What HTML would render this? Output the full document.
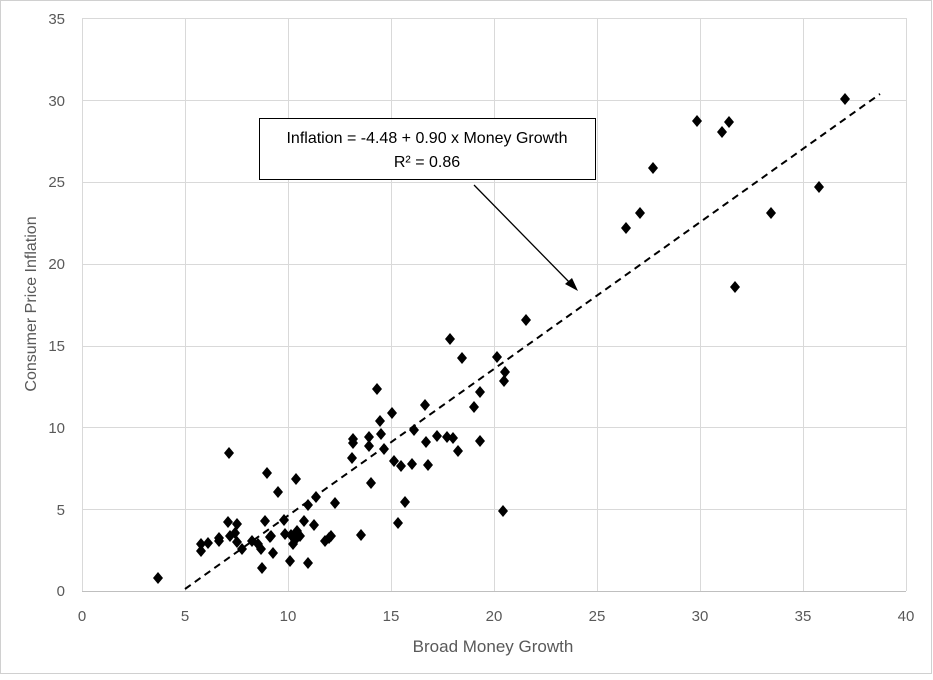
<!DOCTYPE html>
<html><head><style>
body{margin:0;background:#fff}
svg text{font-family:"Liberation Sans",sans-serif;fill:#595959}
</style></head><body>
<svg width="933" height="675" viewBox="0 0 933 675" xmlns="http://www.w3.org/2000/svg">
<rect x="0.5" y="0.5" width="931" height="673" fill="#fff" stroke="#d0d0d0"/>
<g stroke="#d9d9d9" stroke-width="1">
<line x1="82" y1="18.5" x2="906" y2="18.5"/><line x1="82" y1="100.5" x2="906" y2="100.5"/><line x1="82" y1="182.5" x2="906" y2="182.5"/><line x1="82" y1="264.5" x2="906" y2="264.5"/><line x1="82" y1="346.5" x2="906" y2="346.5"/><line x1="82" y1="427.5" x2="906" y2="427.5"/><line x1="82" y1="509.5" x2="906" y2="509.5"/>
<line x1="185.5" y1="18" x2="185.5" y2="591"/><line x1="288.5" y1="18" x2="288.5" y2="591"/><line x1="391.5" y1="18" x2="391.5" y2="591"/><line x1="494.5" y1="18" x2="494.5" y2="591"/><line x1="597.5" y1="18" x2="597.5" y2="591"/><line x1="700.5" y1="18" x2="700.5" y2="591"/><line x1="803.5" y1="18" x2="803.5" y2="591"/><line x1="906.5" y1="18" x2="906.5" y2="591"/>
<line x1="82.5" y1="18" x2="82.5" y2="591"/>
</g>
<line x1="82" y1="591.5" x2="906" y2="591.5" stroke="#bfbfbf"/>
<g font-size="15" text-anchor="end">
<text x="65" y="596">0</text><text x="65" y="515">5</text><text x="65" y="433">10</text><text x="65" y="351">15</text><text x="65" y="269">20</text><text x="65" y="187">25</text><text x="65" y="106">30</text><text x="65" y="24">35</text>
</g>
<g font-size="15" text-anchor="middle">
<text x="82" y="621">0</text><text x="185" y="621">5</text><text x="288" y="621">10</text><text x="391" y="621">15</text><text x="494" y="621">20</text><text x="597" y="621">25</text><text x="700" y="621">30</text><text x="803" y="621">35</text><text x="906" y="621">40</text>
</g>
<text x="493" y="652" font-size="17" text-anchor="middle">Broad Money Growth</text>
<text transform="translate(36,304) rotate(-90)" font-size="16" text-anchor="middle">Consumer  Price Inflation</text>
<line x1="185" y1="589" x2="880" y2="94" stroke="#000" stroke-width="2" stroke-dasharray="7,5"/>
<g fill="#000">
<polygon points="158,572 163,578 158,584 153,578"/>
<polygon points="201,545 206,551 201,557 196,551"/>
<polygon points="201,538 206,544 201,550 196,544"/>
<polygon points="208,537 213,543 208,549 203,543"/>
<polygon points="219,535 224,541 219,547 214,541"/>
<polygon points="219,532 224,538 219,544 214,538"/>
<polygon points="228,516 233,522 228,528 223,522"/>
<polygon points="230,530 235,536 230,542 225,536"/>
<polygon points="229,447 234,453 229,459 224,453"/>
<polygon points="235,527 240,533 235,539 230,533"/>
<polygon points="237,518 242,524 237,530 232,524"/>
<polygon points="237,536 242,542 237,548 232,542"/>
<polygon points="242,543 247,549 242,555 237,549"/>
<polygon points="252,535 257,541 252,547 247,541"/>
<polygon points="258,538 263,544 258,550 253,544"/>
<polygon points="262,562 267,568 262,574 257,568"/>
<polygon points="261,543 266,549 261,555 256,549"/>
<polygon points="265,515 270,521 265,527 260,521"/>
<polygon points="267,467 272,473 267,479 262,473"/>
<polygon points="270,531 275,537 270,543 265,537"/>
<polygon points="271,530 276,536 271,542 266,536"/>
<polygon points="273,547 278,553 273,559 268,553"/>
<polygon points="278,486 283,492 278,498 273,492"/>
<polygon points="284,514 289,520 284,526 279,520"/>
<polygon points="285,528 290,534 285,540 280,534"/>
<polygon points="290,555 295,561 290,567 285,561"/>
<polygon points="291,529 296,535 291,541 286,535"/>
<polygon points="293,538 298,544 293,550 288,544"/>
<polygon points="295,534 300,540 295,546 290,540"/>
<polygon points="296,473 301,479 296,485 291,479"/>
<polygon points="297,525 302,531 297,537 292,531"/>
<polygon points="300,530 305,536 300,542 295,536"/>
<polygon points="304,515 309,521 304,527 299,521"/>
<polygon points="308,557 313,563 308,569 303,563"/>
<polygon points="308,499 313,505 308,511 303,505"/>
<polygon points="314,519 319,525 314,531 309,525"/>
<polygon points="316,491 321,497 316,503 311,497"/>
<polygon points="325,535 330,541 325,547 320,541"/>
<polygon points="329,532 334,538 329,544 324,538"/>
<polygon points="331,530 336,536 331,542 326,536"/>
<polygon points="335,497 340,503 335,509 330,503"/>
<polygon points="352,452 357,458 352,464 347,458"/>
<polygon points="353,433 358,439 353,445 348,439"/>
<polygon points="353,437 358,443 353,449 348,443"/>
<polygon points="361,529 366,535 361,541 356,535"/>
<polygon points="369,440 374,446 369,452 364,446"/>
<polygon points="369,431 374,437 369,443 364,437"/>
<polygon points="371,477 376,483 371,489 366,483"/>
<polygon points="377,383 382,389 377,395 372,389"/>
<polygon points="380,415 385,421 380,427 375,421"/>
<polygon points="381,428 386,434 381,440 376,434"/>
<polygon points="384,443 389,449 384,455 379,449"/>
<polygon points="392,407 397,413 392,419 387,413"/>
<polygon points="394,455 399,461 394,467 389,461"/>
<polygon points="398,517 403,523 398,529 393,523"/>
<polygon points="401,460 406,466 401,472 396,466"/>
<polygon points="405,496 410,502 405,508 400,502"/>
<polygon points="412,458 417,464 412,470 407,464"/>
<polygon points="414,424 419,430 414,436 409,430"/>
<polygon points="425,399 430,405 425,411 420,405"/>
<polygon points="426,436 431,442 426,448 421,442"/>
<polygon points="428,459 433,465 428,471 423,465"/>
<polygon points="437,430 442,436 437,442 432,436"/>
<polygon points="447,431 452,437 447,443 442,437"/>
<polygon points="450,333 455,339 450,345 445,339"/>
<polygon points="453,432 458,438 453,444 448,438"/>
<polygon points="458,445 463,451 458,457 453,451"/>
<polygon points="462,352 467,358 462,364 457,358"/>
<polygon points="474,401 479,407 474,413 469,407"/>
<polygon points="480,386 485,392 480,398 475,392"/>
<polygon points="480,435 485,441 480,447 475,441"/>
<polygon points="497,351 502,357 497,363 492,357"/>
<polygon points="504,375 509,381 504,387 499,381"/>
<polygon points="505,366 510,372 505,378 500,372"/>
<polygon points="503,505 508,511 503,517 498,511"/>
<polygon points="526,314 531,320 526,326 521,320"/>
<polygon points="626,222 631,228 626,234 621,228"/>
<polygon points="640,207 645,213 640,219 635,213"/>
<polygon points="653,162 658,168 653,174 648,168"/>
<polygon points="697,115 702,121 697,127 692,121"/>
<polygon points="722,126 727,132 722,138 717,132"/>
<polygon points="729,116 734,122 729,128 724,122"/>
<polygon points="735,281 740,287 735,293 730,287"/>
<polygon points="771,207 776,213 771,219 766,213"/>
<polygon points="819,181 824,187 819,193 814,187"/>
<polygon points="845,93 850,99 845,105 840,99"/>
</g>
<rect x="259.5" y="118.5" width="336" height="61" fill="#fff" stroke="#000"/>
<text x="427" y="143" font-size="16" text-anchor="middle" style="fill:#000">Inflation = -4.48 + 0.90 x Money Growth</text>
<text x="427" y="167" font-size="16" text-anchor="middle" style="fill:#000">R² = 0.86</text>
<line x1="474" y1="185" x2="572" y2="285" stroke="#000" stroke-width="1.3"/>
<polygon points="578,291 565,284 572,278" fill="#000"/>
</svg>
</body></html>
